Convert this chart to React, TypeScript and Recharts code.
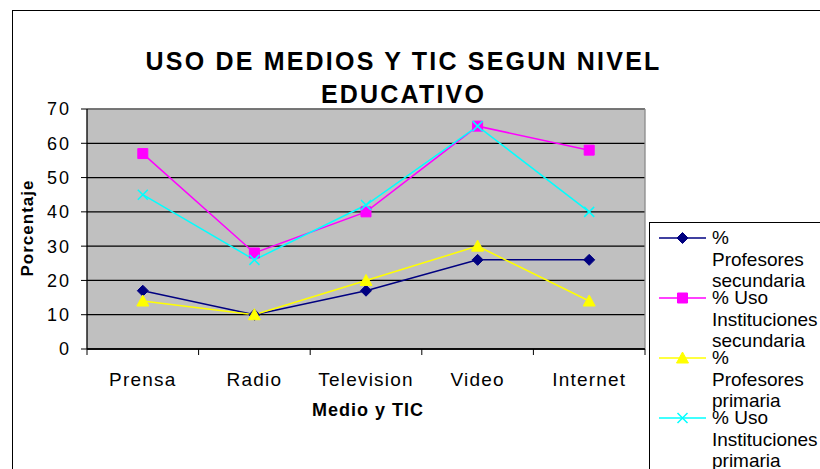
import React from 'react';
import {
  LineChart,
  Line,
  XAxis,
  YAxis,
  CartesianGrid,
  ReferenceLine,
} from 'recharts';

const categories = ['Prensa', 'Radio', 'Television', 'Video', 'Internet'];
const profesoresSecundaria = [17, 10, 17, 26, 26];
const institucionesSecundaria = [57, 28, 40, 65, 58];
const profesoresPrimaria = [14, 10, 20, 30, 14];
const institucionesPrimaria = [45, 26, 42, 65, 40];
const yTicks = [0, 10, 20, 30, 40, 50, 60, 70];

const seriesNames = [
  ['%', 'Profesores', 'secundaria'],
  ['% Uso', 'Instituciones', 'secundaria'],
  ['%', 'Profesores', 'primaria'],
  ['% Uso', 'Instituciones', 'primaria'],
];

const FONT = '"Liberation Sans", Arial, sans-serif';

// points sit in the middle of each category band, tick marks between bands
const data = categories.map((name, i) => ({
  name,
  pos: i + 0.5,
  profSec: profesoresSecundaria[i],
  instSec: institucionesSecundaria[i],
  profPri: profesoresPrimaria[i],
  instPri: institucionesPrimaria[i],
}));
const xTicks = Array.from({ length: categories.length * 2 + 1 }, (_, i) => i / 2);

type Shape = 'diamond' | 'square' | 'triangle' | 'cross';

function markerPath(shape: Shape, cx: number, cy: number) {
  switch (shape) {
    case 'diamond':
      return `M${cx},${cy - 5.5}L${cx + 5.5},${cy}L${cx},${cy + 5.5}L${cx - 5.5},${cy}Z`;
    case 'square':
      return `M${cx - 5},${cy - 5}h10v10h-10Z`;
    case 'triangle':
      return `M${cx},${cy - 6}L${cx + 6},${cy + 5}L${cx - 6},${cy + 5}Z`;
    default:
      return `M${cx - 5},${cy - 5}L${cx + 5},${cy + 5}M${cx + 5},${cy - 5}L${cx - 5},${cy + 5}`;
  }
}

function Marker({ shape, color, cx, cy }: { shape: Shape; color: string; cx: number; cy: number }) {
  if (shape === 'cross') {
    return <path d={markerPath(shape, cx, cy)} stroke={color} strokeWidth={1.5} fill="none" />;
  }
  return <path d={markerPath(shape, cx, cy)} fill={color} stroke={color} strokeWidth={1} />;
}

const series: { key: string; color: string; shape: Shape }[] = [
  { key: 'profSec', color: '#000080', shape: 'diamond' },
  { key: 'instSec', color: '#FF00FF', shape: 'square' },
  { key: 'profPri', color: '#FFFF00', shape: 'triangle' },
  { key: 'instPri', color: '#00FFFF', shape: 'cross' },
];

function CategoryTick(props: any) {
  const { x, y, payload } = props;
  const v = payload.value as number;
  if (Number.isInteger(v)) {
    return <line x1={x} x2={x} y1={y} y2={y + 6} stroke="#000" strokeWidth={1} />;
  }
  return (
    <text
      x={x}
      y={y + 37}
      textAnchor="middle"
      fill="#000"
      fontSize={19}
      fontFamily={FONT}
      letterSpacing={1.2}
    >
      {categories[Math.floor(v)]}
    </text>
  );
}

export default function App() {
  return (
    <div
      style={{
        position: 'absolute',
        left: 0,
        top: 0,
        width: 820,
        height: 469,
        overflow: 'hidden',
        background: '#fff',
        fontFamily: FONT,
      }}
    >
      {/* chart area border, cut off at right and bottom */}
      <div
        style={{
          position: 'absolute',
          left: 12,
          top: 10,
          width: 900,
          height: 600,
          border: '1px solid #000',
          boxSizing: 'border-box',
        }}
      />

      <div style={{ position: 'absolute', left: 0, top: 0 }}>
        <LineChart
          width={820}
          height={469}
          data={data}
          margin={{ top: 109, right: 175, bottom: 70, left: 0 }}
        >
          <CartesianGrid
            vertical={false}
            stroke="#000"
            strokeWidth={1.3}
            fill="#C0C0C0"
            fillOpacity={1}
          />
          <ReferenceLine y={70} stroke="#8a8a8a" strokeWidth={1.3} />
          <ReferenceLine x={5} stroke="#8a8a8a" strokeWidth={1.3} />
          <XAxis
            type="number"
            dataKey="pos"
            domain={[0, 5]}
            ticks={xTicks}
            interval={0}
            allowDecimals
            tickSize={0}
            tickMargin={0}
            tickLine={false}
            axisLine={{ stroke: '#000', strokeWidth: 1.3 }}
            tick={<CategoryTick />}
            height={50}
          />
          <YAxis
            domain={[0, 70]}
            ticks={yTicks}
            interval={0}
            width={87}
            tickSize={6}
            tickMargin={10}
            axisLine={{ stroke: '#000', strokeWidth: 1.3 }}
            tickLine={{ stroke: '#000' }}
            tick={{ fill: '#000', fontSize: 18, fontFamily: FONT, letterSpacing: 2 }}
          />
          {series.map((s) => (
            <Line
              key={s.key}
              type="linear"
              dataKey={s.key}
              stroke={s.color}
              strokeWidth={1.5}
              isAnimationActive={false}
              dot={(p: any) => (
                <Marker key={`${s.key}-${p.index}`} shape={s.shape} color={s.color} cx={p.cx} cy={p.cy} />
              )}
              activeDot={false}
            />
          ))}
        </LineChart>
      </div>

      {/* title */}
      <div
        style={{
          position: 'absolute',
          left: 102,
          top: 45,
          width: 603,
          textAlign: 'center',
          fontWeight: 'bold',
          fontSize: 25,
          lineHeight: '33px',
          letterSpacing: 2.2,
          color: '#000',
        }}
      >
        USO DE MEDIOS Y TIC SEGUN NIVEL
        <br />
        EDUCATIVO
      </div>

      {/* y axis title */}
      <div
        style={{
          position: 'absolute',
          left: 28,
          top: 228,
          transform: 'translate(-50%, -50%) rotate(-90deg)',
          whiteSpace: 'nowrap',
          fontWeight: 'bold',
          fontSize: 17,
          letterSpacing: 1,
          color: '#000',
        }}
      >
        Porcentaje
      </div>

      {/* x axis title */}
      <div
        style={{
          position: 'absolute',
          left: 218,
          top: 400,
          width: 300,
          textAlign: 'center',
          fontWeight: 'bold',
          fontSize: 18,
          letterSpacing: 1,
          color: '#000',
        }}
      >
        Medio y TIC
      </div>

      {/* legend */}
      <div
        style={{
          position: 'absolute',
          left: 649,
          top: 222,
          width: 300,
          height: 400,
          border: '1px solid #000',
          background: '#fff',
        }}
      >
        {series.map((s, i) => (
          <div
            key={s.key}
            style={{ position: 'absolute', left: 0, top: 4 + i * 60, height: 60, width: 300 }}
          >
            <svg
              width={50}
              height={22}
              style={{ position: 'absolute', left: 9, top: 0 }}
            >
              <line x1={0} x2={47} y1={11} y2={11} stroke={s.color} strokeWidth={1.5} />
              <Marker shape={s.shape} color={s.color} cx={23.5} cy={11} />
            </svg>
            <div
              style={{
                position: 'absolute',
                left: 62,
                top: 0,
                fontSize: 19,
                lineHeight: '21.5px',
                color: '#000',
                whiteSpace: 'nowrap',
              }}
            >
              {seriesNames[i].map((t, j) => (
                <div key={j}>{t}</div>
              ))}
            </div>
          </div>
        ))}
      </div>
    </div>
  );
}
